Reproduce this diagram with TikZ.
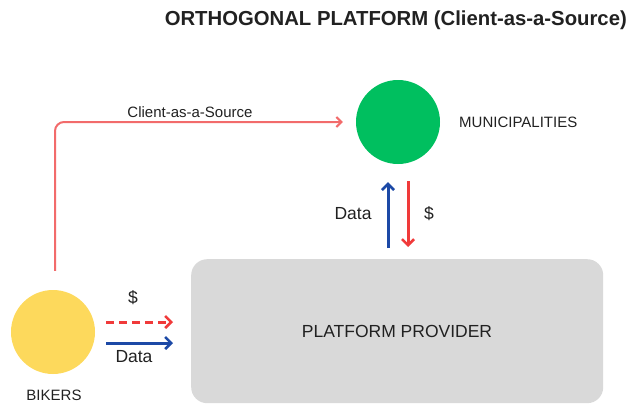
\documentclass[tikz,border=0pt]{standalone}
\usepackage{fontspec}
\setmainfont{Liberation Sans}
\usetikzlibrary{arrows.meta}
\definecolor{txt}{HTML}{212121}
\definecolor{linkred}{HTML}{F26B6B}
\definecolor{payred}{HTML}{F03A3A}
\definecolor{datablue}{HTML}{1C49A6}
\definecolor{muniGreen}{HTML}{00BF5F}
\definecolor{bikeYellow}{HTML}{FDD95C}
\definecolor{boxGray}{HTML}{D9D9D9}
\tikzset{
  party/.style={circle, minimum size=84pt, inner sep=0pt},
  lbl/.style={text=txt, inner sep=0pt, font=\fontsize{15}{17}\selectfont},
  bigLbl/.style={text=txt, inner sep=0pt, font=\fontsize{17.5}{20}\selectfont},
  tip/.style={-{Straight Barb[length=6pt,width=12pt,line width=2.6pt]}},
  flow/.style={tip, line width=3pt},
}
\begin{document}
\begin{tikzpicture}[x=1pt, y=-1pt]
\useasboundingbox (0,0) rectangle (629,404);

% title
\node[anchor=east, text=txt, inner sep=0pt, font=\fontsize{20.3}{23}\bfseries] (title) at (627,20) {ORTHOGONAL PLATFORM (Client-as-a-Source)};

% actors
\node[party, fill=muniGreen] (muni) at (398,122) {};
\node[lbl, anchor=west] (munilbl) at (459,122) {MUNICIPALITIES};
\node[party, fill=bikeYellow] (bikers) at (53,332) {};
\node[lbl, anchor=center] (bikerslbl) at (54,395) {BIKERS};
\node[fill=boxGray, rounded corners=16pt, minimum width=412pt, minimum height=144pt, anchor=north west] (platform) at (191,259) {};
\node[bigLbl] (platformlbl) at (397,331) {PLATFORM PROVIDER};

% client-as-a-source link
\draw[-{Straight Barb[length=5pt,width=10pt,line width=2pt]}, linkred, line width=2pt, rounded corners=9pt, shorten <=19pt, shorten >=13pt]
  ([xshift=2pt]bikers.north) |- (muni.west);
\node[lbl] (caslbl) at (190,112) {Client-as-a-Source};

% platform <-> municipalities
\draw[flow, datablue, shorten <=11pt, shorten >=18pt] ([xshift=-10pt]platform.north -| muni.south) -- ([xshift=-10pt]muni.south);
\draw[flow, payred, shorten <=17pt, shorten >=12pt] ([xshift=10pt]muni.south) -- ([xshift=10pt]platform.north -| muni.south);
\node[bigLbl, anchor=center] (data1) at (353,214) {Data};
\node[bigLbl, anchor=center] (pay1) at (429,214) {\$};

% bikers -> platform (canvas shifts: positive yshift is upward)
\draw[flow, payred, dashed, dash pattern=on 8pt off 5pt, shorten <=11pt, shorten >=18pt] ([yshift=10pt]bikers.east) -- ([yshift=10pt]bikers.east -| platform.west);
\draw[flow, datablue, shorten <=11pt, shorten >=18pt] ([yshift=-11pt]bikers.east) -- ([yshift=-11pt]bikers.east -| platform.west);
\node[bigLbl] (pay2) at (133,298) {\$};
\node[bigLbl] (data2) at (134,357) {Data};
\end{tikzpicture}
\end{document}
